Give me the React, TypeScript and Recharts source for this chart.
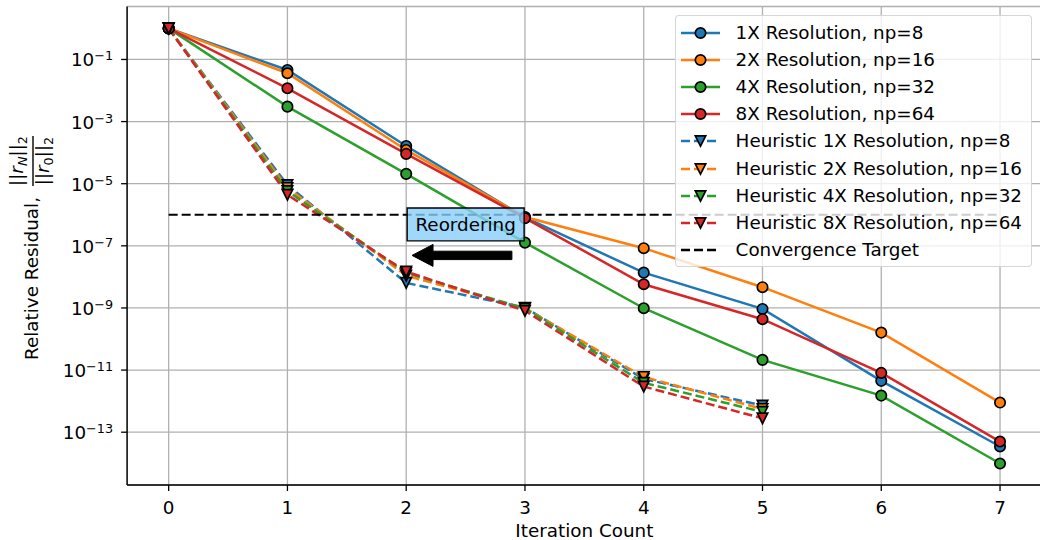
import React from 'react';
import {
  LineChart,
  Line,
  XAxis,
  YAxis,
  CartesianGrid,
  ReferenceArea,
  ReferenceLine,
  Legend,
} from 'recharts';

const FONT = '"DejaVu Sans", "Liberation Sans", sans-serif';
const FS = 18.33;
const FS_SMALL = 12.8;

// ---- data ----
const iterations = [0, 1, 2, 3, 4, 5, 6, 7];
const res1x = [1, 0.0459, 1.64e-4, 8.2e-7, 1.37e-8, 9.3e-10, 4.5e-12, 3.47e-14];
const res2x = [1, 0.036, 1.22e-4, 8.5e-7, 8.4e-8, 4.66e-9, 1.61e-10, 9.0e-13];
const res4x = [1, 0.00303, 2.07e-5, 1.27e-7, 9.8e-10, 2.13e-11, 1.51e-12, 9.8e-15];
const res8x = [1, 0.0118, 9.1e-5, 7.8e-7, 5.8e-9, 4.35e-10, 8.1e-12, 5.0e-14];
const heur1x = [1, 9.1e-6, 6.4e-9, 1.02e-9, 5.2e-12, 7.2e-13];
const heur2x = [1, 7.3e-6, 1.1e-8, 9.8e-10, 6.0e-12, 5.6e-13];
const heur4x = [1, 5.8e-6, 1.35e-8, 9.5e-10, 3.9e-12, 4.5e-13];
const heur8x = [1, 4.4e-6, 1.48e-8, 8.1e-10, 2.95e-12, 2.8e-13];
const convergenceTarget = 1e-6;

const xTicks = [0, 1, 2, 3, 4, 5, 6, 7];
const yTicks = [1e-1, 1e-3, 1e-5, 1e-7, 1e-9, 1e-11, 1e-13];

const seriesLabels = [
  '1X Resolution, np=8',
  '2X Resolution, np=16',
  '4X Resolution, np=32',
  '8X Resolution, np=64',
  'Heuristic 1X Resolution, np=8',
  'Heuristic 2X Resolution, np=16',
  'Heuristic 4X Resolution, np=32',
  'Heuristic 8X Resolution, np=64',
  'Convergence Target',
];

const annotationText = 'Reordering';
// annotation placement (data coords)
const boxX = [2.008, 2.993];
const boxY = [Math.pow(10, -6.84), Math.pow(10, -5.78)];
const arrowFrom = { x: 2.89, y: Math.pow(10, -7.308) };
const arrowTo = { x: 2.049, y: Math.pow(10, -7.308) };

const COLORS = ['#1f77b4', '#ff7f0e', '#2ca02c', '#d62728'];

const series = [
  { key: 'r1', color: COLORS[0], dashed: false },
  { key: 'r2', color: COLORS[1], dashed: false },
  { key: 'r4', color: COLORS[2], dashed: false },
  { key: 'r8', color: COLORS[3], dashed: false },
  { key: 'h1', color: COLORS[0], dashed: true },
  { key: 'h2', color: COLORS[1], dashed: true },
  { key: 'h4', color: COLORS[2], dashed: true },
  { key: 'h8', color: COLORS[3], dashed: true },
];

const rows = iterations.map((it, i) => ({
  it,
  r1: res1x[i],
  r2: res2x[i],
  r4: res4x[i],
  r8: res8x[i],
  h1: heur1x[i] ?? null,
  h2: heur2x[i] ?? null,
  h4: heur4x[i] ?? null,
  h8: heur8x[i] ?? null,
  target: i === 0 || i === iterations.length - 1 ? convergenceTarget : null,
}));

const MS = 5.2; // marker half-size
const LW = 2.5;
const DASH = '9 4';

const circleDot = (color: string) => (p: any) => {
  if (p.cx == null || p.cy == null || p.value == null) return <g key={`d-${p.index}`} />;
  return (
    <circle key={`d-${p.index}`} cx={p.cx} cy={p.cy} r={MS} fill={color} stroke="#000" strokeWidth={1.7} />
  );
};

const triPoints = (cx: number, cy: number, s: number) =>
  `${cx - s},${cy - s} ${cx + s},${cy - s} ${cx},${cy + s}`;

const triDot = (color: string) => (p: any) => {
  if (p.cx == null || p.cy == null || p.value == null) return <g key={`d-${p.index}`} />;
  return (
    <polygon key={`d-${p.index}`} points={triPoints(p.cx, p.cy, MS)} fill={color} stroke="#000" strokeWidth={1.7} strokeLinejoin="miter" />
  );
};

const XTick = (p: any) => (
  <text x={p.x} y={p.y + 20.5} textAnchor="middle" fontFamily={FONT} fontSize={FS} fill="#000">
    {p.payload.value}
  </text>
);

const YTick = (p: any) => {
  const e = Math.round(Math.log10(p.payload.value));
  return (
    <text x={p.x - 6} y={p.y + 7} textAnchor="end" fontFamily={FONT} fontSize={FS} fill="#000">
      10
      <tspan dy={-6} fontSize={FS_SMALL}>{(e < 0 ? '\u2212' : '') + Math.abs(e)}</tspan>
    </text>
  );
};

const XLabel = (p: any) => {
  const vb = p.viewBox || {};
  return (
    <text x={vb.x + vb.width / 2} y={537} textAnchor="middle" fontFamily={FONT} fontSize={FS} fill="#000">
      Iteration Count
    </text>
  );
};

const YLabel = () => (
  <g transform="translate(38,248) rotate(-90)" fontFamily={FONT} fontSize={FS} fill="#000">
    <text x={-112} y={0}>Relative Residual,</text>
    <text x={87} y={-15} textAnchor="middle">
      ||<tspan fontStyle="italic">r</tspan>
      <tspan fontSize={FS_SMALL} dy={3.5} fontStyle="italic">N</tspan>
      <tspan dy={-3.5}>||</tspan>
      <tspan fontSize={FS_SMALL} dy={3.5}>2</tspan>
    </text>
    <line x1={62} x2={112} y1={-5} y2={-5} stroke="#000" strokeWidth={1.4} />
    <text x={87} y={11} textAnchor="middle">
      ||<tspan fontStyle="italic">r</tspan>
      <tspan fontSize={FS_SMALL} dy={3.5}>0</tspan>
      <tspan dy={-3.5}>||</tspan>
      <tspan fontSize={FS_SMALL} dy={3.5}>2</tspan>
    </text>
  </g>
);

const ArrowShape = (p: any) => {
  const { x1, y1, x2, y2 } = p;
  if ([x1, y1, x2, y2].some((v) => v == null || Number.isNaN(v))) return <g />;
  const dx = x2 - x1;
  const dy = y2 - y1;
  const len = Math.hypot(dx, dy) || 1;
  const ux = dx / len;
  const uy = dy / len;
  const nx = -uy;
  const ny = ux;
  const hl = 21;
  const hw = 11;
  const sw = 4.2;
  const bx = x2 - ux * hl;
  const by = y2 - uy * hl;
  const pts = [
    [x1 + nx * sw, y1 + ny * sw],
    [bx + nx * sw, by + ny * sw],
    [bx + nx * hw, by + ny * hw],
    [x2, y2],
    [bx - nx * hw, by - ny * hw],
    [bx - nx * sw, by - ny * sw],
    [x1 - nx * sw, y1 - ny * sw],
  ]
    .map((q) => q.join(','))
    .join(' ');
  return <polygon points={pts} fill="#000" stroke="#000" strokeWidth={1} />;
};

const AnnotationLabel = (p: any) => {
  const vb = p.viewBox || {};
  return (
    <text
      x={vb.x + vb.width / 2}
      y={vb.y + vb.height / 2 + 6.5}
      textAnchor="middle"
      fontFamily={FONT}
      fontSize={FS}
      fill="#000"
    >
      {annotationText}
    </text>
  );
};

const LegendSample = ({ color, dashed, marker }: { color: string; dashed: boolean; marker: string }) => (
  <svg width={40} height={24} style={{ display: 'block', flex: 'none' }}>
    <line x1={0} x2={39} y1={12} y2={12} stroke={color} strokeWidth={LW} strokeDasharray={dashed ? DASH : undefined} />
    {marker === 'o' && <circle cx={19.5} cy={12} r={MS} fill={color} stroke="#000" strokeWidth={1.7} />}
    {marker === 'v' && <polygon points={triPoints(19.5, 12, MS)} fill={color} stroke="#000" strokeWidth={1.7} />}
  </svg>
);

const LegendBox = () => {
  const items = [
    ...series.map((s, i) => ({ label: seriesLabels[i], color: s.color, dashed: s.dashed, marker: s.dashed ? 'v' : 'o' })),
    { label: seriesLabels[8], color: '#000', dashed: true, marker: '' },
  ];
  return (
    <div
      style={{
        width: 357,
        height: 252,
        boxSizing: 'border-box',
        background: 'rgba(255,255,255,0.8)',
        border: '1.4px solid rgba(204,204,204,0.8)',
        borderRadius: 4,
        paddingTop: 3,
        fontFamily: FONT,
        fontSize: FS,
        color: '#000',
      }}
    >
      {items.map((it, i) => (
        <div key={i} style={{ height: 27.2, display: 'flex', alignItems: 'center', whiteSpace: 'nowrap' }}>
          <div style={{ marginLeft: 5.3 }}>
            <LegendSample color={it.color} dashed={it.dashed} marker={it.marker} />
          </div>
          <span style={{ marginLeft: 14.3, lineHeight: '20px' }}>{it.label}</span>
        </div>
      ))}
    </div>
  );
};

export default function App() {
  return (
    <div style={{ position: 'fixed', left: 0, top: 0, width: 1040, height: 540, overflow: 'hidden', background: '#fff' }}>
      <LineChart
        width={1060}
        height={540}
        data={rows}
        margin={{ top: 6.5, right: 18.4, bottom: 0, left: 0 }}
        style={{ fontFamily: FONT }}
      >
        <CartesianGrid stroke="#b0b0b0" strokeWidth={1.3} />
        <XAxis
          dataKey="it"
          type="number"
          domain={[-0.35, 7.35]}
          allowDataOverflow
          ticks={xTicks}
          height={55}
          tickSize={6}
          tickLine={{ stroke: '#000', strokeWidth: 1.3 }}
          axisLine={{ stroke: '#000', strokeWidth: 1.4 }}
          tick={<XTick />}
          interval={0}
          label={<XLabel />}
        />
        <XAxis
          xAxisId="top"
          orientation="top"
          dataKey="it"
          type="number"
          domain={[-0.35, 7.35]}
          allowDataOverflow
          height={0}
          tick={false}
          tickLine={false}
          axisLine={{ stroke: '#000', strokeWidth: 1.4 }}
        />
        <YAxis
          type="number"
          scale="log"
          domain={[Math.pow(10, -14.7), Math.pow(10, 0.705)]}
          allowDataOverflow
          ticks={yTicks}
          width={127.1}
          tickSize={6}
          tickLine={{ stroke: '#000', strokeWidth: 1.3 }}
          axisLine={{ stroke: '#000', strokeWidth: 1.4 }}
          tick={<YTick />}
          interval={0}
          label={<YLabel />}
        />
        {series.map((s) => (
          <Line
            key={s.key}
            dataKey={s.key}
            type="linear"
            stroke={s.color}
            strokeWidth={LW}
            strokeDasharray={s.dashed ? DASH : undefined}
            dot={s.dashed ? triDot(s.color) : circleDot(s.color)}
            activeDot={false}
            isAnimationActive={false}
            connectNulls={false}
          />
        ))}
        <Line
          dataKey="target"
          type="linear"
          stroke="#000"
          strokeWidth={2.2}
          strokeDasharray={DASH}
          dot={false}
          activeDot={false}
          connectNulls
          isAnimationActive={false}
        />
        <ReferenceArea
          x1={boxX[0]}
          x2={boxX[1]}
          y1={boxY[0]}
          y2={boxY[1]}
          fill="#87cefa"
          fillOpacity={0.8}
          stroke="#000"
          strokeWidth={1.4}
          label={<AnnotationLabel />}
          zIndex={1500}
        />
        <ReferenceLine segment={[arrowFrom, arrowTo]} shape={ArrowShape} zIndex={1500} />
        <Legend
          layout="vertical"
          align="center"
          verticalAlign="middle"
          content={<LegendBox />}
          wrapperStyle={{ left: 675, top: 15, width: 357, height: 252 }}
        />
      </LineChart>
    </div>
  );
}
